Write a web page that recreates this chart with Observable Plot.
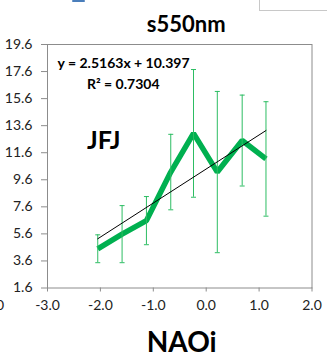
<!DOCTYPE html>
<html><head><meta charset="utf-8">
<script src="https://cdn.jsdelivr.net/npm/d3@7"></script>
<script src="https://cdn.jsdelivr.net/npm/@observablehq/plot@0.6"></script>
<style>
body{margin:0;background:#fff;}
#wrap{position:relative;width:327px;height:361px;overflow:hidden;font-family:Lato,sans-serif;background:#fff;}
#wrap svg{position:absolute;left:0;top:0;}
.deco-box{position:absolute;left:259px;top:-2px;width:80px;height:11px;border:1px solid #c8c8c8;}
.deco-blue{position:absolute;left:72px;top:0px;width:13px;height:2px;background:#4a7ebb;border-radius:1px;}
.deco-zero{position:absolute;left:-4px;top:296px;font:14px Lato,sans-serif;color:#222;}
</style></head><body><div id="wrap"><div class="deco-box"></div><div class="deco-blue"></div><div class="deco-zero">0</div></div>
<script>
const naoIndex = [-2.05, -1.59, -1.13, -0.67, -0.24, 0.21, 0.68, 1.13];
const s550 = [4.50, 5.58, 6.58, 10.17, 13.03, 10.17, 12.50, 11.14];
const s550Err = [1.03, 2.11, 1.78, 2.79, 4.72, 5.96, 3.36, 4.23];
const xTicks = [-3, -2, -1, 0, 1, 2];
const yTicks = [1.6, 3.6, 5.6, 7.6, 9.6, 11.6, 13.6, 15.6, 17.6, 19.6];
const trendSlope = [2.5163];
const trendIntercept = [10.397];
const titleText = ["s550nm"];
const xLabelText = ["NAOi"];
const siteText = ["JFJ"];
const eqText = ["y = 2.5163x + 10.397"];
const r2Text = ["R\u00b2 = 0.7304"];

const green = "#00b050";
const barGreen = "#2dbd63";
const rows = naoIndex.map((x, i) => ({x, y: s550[i], lo: s550[i] - s550Err[i], hi: s550[i] + s550Err[i]}));
const xr = d3.extent(naoIndex);
const trend = xr.map(x => ({x, y: trendSlope[0] * x + trendIntercept[0]}));
const capSymbol = {draw(ctx) { ctx.moveTo(-2.5, 0); ctx.lineTo(2.5, 0); }};
const fmt = d => d.toFixed(1);

const chart = Plot.plot({
  width: 327, height: 361,
  marginLeft: 47, marginRight: 15.5, marginTop: 44, marginBottom: 73.5,
  style: {fontFamily: "Lato, sans-serif", background: "transparent", overflow: "visible"},
  x: {domain: [-3, 2]},
  y: {domain: [1.6, 19.6]},
  marks: [
    Plot.frame({stroke: "#8c8c8c", strokeWidth: 1}),
    Plot.axisX({ticks: xTicks, tickFormat: fmt, tickSize: 4, tickPadding: 8, fontSize: 14, stroke: "#8c8c8c", color: "#222", label: null}),
    Plot.axisY({ticks: yTicks, tickFormat: fmt, tickSize: 6, tickPadding: 9, fontSize: 14, stroke: "#8c8c8c", color: "#222", label: null}),
    Plot.line(rows, {x: "x", y: "y", stroke: green, strokeWidth: 5.5, strokeLinejoin: "miter", strokeLinecap: "butt"}),
    Plot.ruleX(rows, {x: "x", y1: "lo", y2: "hi", stroke: barGreen, strokeWidth: 1}),
    Plot.dot(rows, {x: "x", y: "lo", symbol: capSymbol, stroke: barGreen, strokeWidth: 1, fill: "none"}),
    Plot.dot(rows, {x: "x", y: "hi", symbol: capSymbol, stroke: barGreen, strokeWidth: 1, fill: "none"}),
    Plot.line(trend, {x: "x", y: "y", stroke: "#000", strokeWidth: 1}),
    Plot.text(eqText, {text: d => d, frameAnchor: "top-left", textAnchor: "start", lineAnchor: "middle", dx: 10, dy: 19, fontSize: 14, fontWeight: "bold", fill: "#000"}),
    Plot.text(r2Text, {text: d => d, frameAnchor: "top-left", textAnchor: "start", lineAnchor: "middle", dx: 39.5, dy: 40, fontSize: 14, fontWeight: "bold", fill: "#000"}),
    Plot.text(siteText, {text: d => d, frameAnchor: "top-left", textAnchor: "start", lineAnchor: "middle", dx: 39.5, dy: 96, fontSize: 25, fontWeight: "bold", fill: "#000"}),
    Plot.text(titleText, {text: d => d, frameAnchor: "top", lineAnchor: "middle", dx: 6.5, dy: -20, fontSize: 22, fontWeight: "bold", fill: "#000"}),
    Plot.text(xLabelText, {text: d => d, frameAnchor: "bottom", lineAnchor: "middle", dx: 2, dy: 55, fontSize: 28, fontWeight: "bold", fill: "#000"})
  ]
});
document.getElementById("wrap").prepend(chart);
</script>
</body></html>
